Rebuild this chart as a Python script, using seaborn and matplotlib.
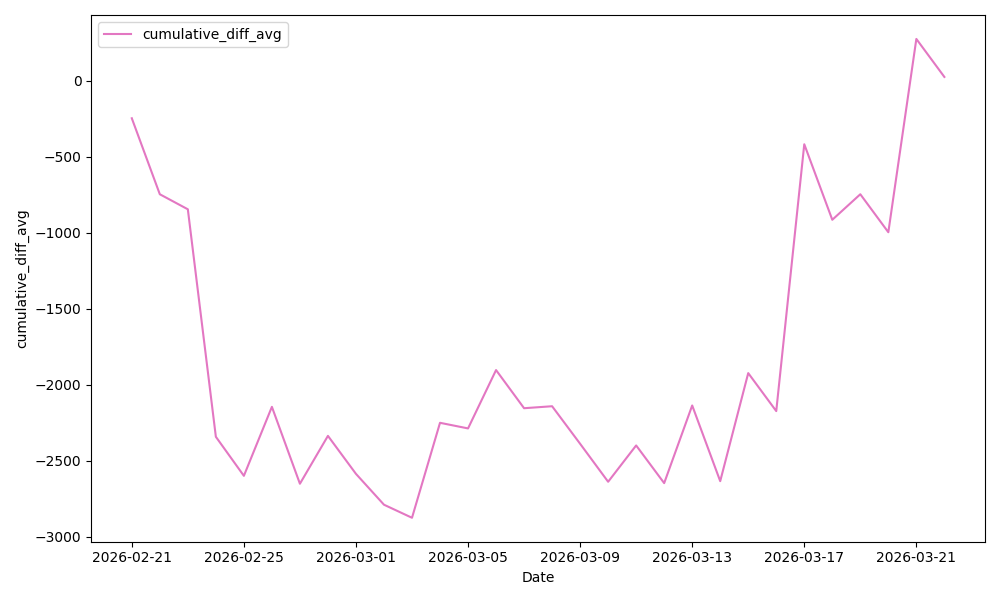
import seaborn as sns
import pandas as pd
import matplotlib.pyplot as plt

dates = pd.date_range('2026-02-21', '2026-03-22', freq='D')
cumulative_diff_avg = [
    -246, -746, -845, -2342, -2599, -2145, -2651, -2336, -2586, -2789,
    -2875, -2250, -2287, -1903, -2154, -2141, -2388, -2638, -2399, -2647,
    -2136, -2634, -1923, -2173, -417, -914, -746, -996, 276, 26,
]

df = pd.DataFrame({'Date': dates, 'cumulative_diff_avg': cumulative_diff_avg})

fig, ax = plt.subplots(figsize=(10, 6), dpi=100)
sns.lineplot(data=df, x='Date', y='cumulative_diff_avg', color='#e377c2',
             label='cumulative_diff_avg', ax=ax)
ax.legend(loc='upper left')

plt.tight_layout()
plt.savefig('out.png')
